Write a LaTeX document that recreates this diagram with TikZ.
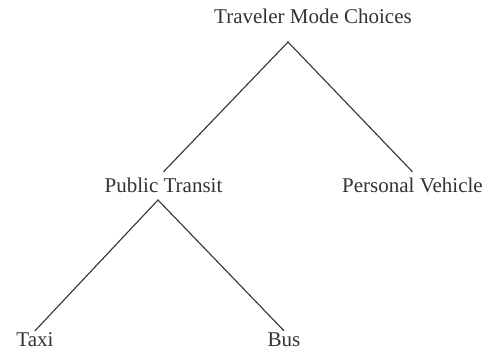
\documentclass[tikz,border=0pt]{standalone}
\usepackage{fontspec}
\setmainfont{Liberation Serif}
\begin{document}
\begin{tikzpicture}[x=1pt,y=-1pt,
  lbl/.style={font=\fontsize{21}{25}\selectfont, text=black!80, anchor=base,
    inner xsep=0pt, text height=0.7em, text depth=0.2em},
  mid/.style={lbl, inner ysep=13pt},
  low/.style={lbl, inner ysep=8pt},
  edge/.style={draw=black!80, line width=1.1pt}]
\useasboundingbox (0,0) rectangle (492,351);
\node[lbl] (tmc) at (313,23) {Traveler Mode Choices};
\node[mid] (pt) at (163.5,192) {Public Transit};
\node[mid] (pv) at (412.5,192) {Personal Vehicle};
\node[low] (taxi) at (35,346) {Taxi};
\node[low] (bus) at (284,346) {Bus};
\coordinate (a1) at (288,42);
\coordinate (a2) at (158,200);
\draw[edge] (pt.north) -- (a1) -- (pv.north);
\draw[edge] (taxi.north) -- (a2) -- (bus.north);
\end{tikzpicture}
\end{document}
